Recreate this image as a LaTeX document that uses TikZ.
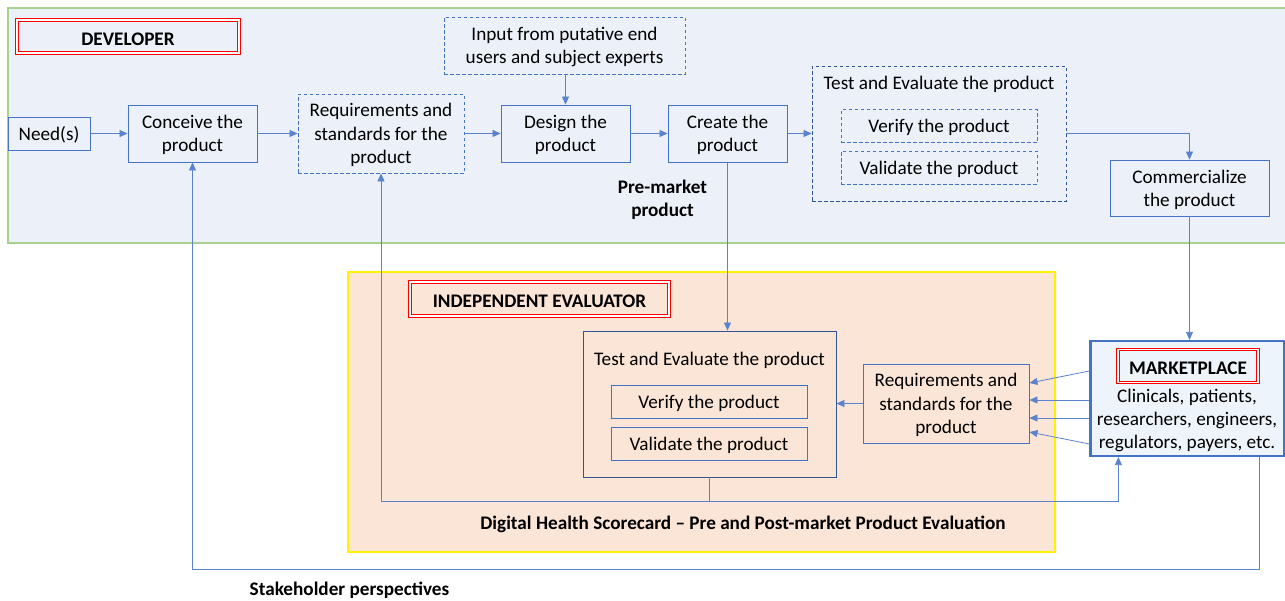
\documentclass[tikz,border=0pt]{standalone}
\usepackage{fontspec}
\setmainfont{Carlito}
\usetikzlibrary{arrows.meta,calc}
\definecolor{lblue}{HTML}{4472C4}
\definecolor{dblue}{HTML}{2F5597}
\definecolor{devfill}{HTML}{ECF0F9}
\definecolor{devgreen}{HTML}{A9D18E}
\definecolor{evfill}{HTML}{FBE5D6}
\definecolor{mktfill}{HTML}{EEF4FB}
\definecolor{conn}{HTML}{5B82CC}
\tikzset{
  txt/.style={font=\fontsize{19.2}{23.3}\selectfont, align=center, inner sep=0pt},
  box/.style={txt, draw=lblue, line width=0.9pt, rectangle, text depth=-0.6pt},
  dbox/.style={box, dashed, dash pattern=on 3.5pt off 2.5pt},
  lab/.style={txt, font=\fontsize{19.2}{23.3}\selectfont\bfseries, draw=red, double=white, double distance=1.4pt, line width=0.9pt, execute at begin node={\rule{0pt}{18pt}}},
  arr/.style={draw=conn, line width=0.8pt, -{Triangle[length=8pt,width=7pt]}},
  ln/.style={draw=conn, line width=0.8pt},
  bold/.style={txt, font=\fontsize{19.2}{23.3}\selectfont\bfseries},
}
\begin{document}
\begin{tikzpicture}[x=1pt,y=-1pt]
\useasboundingbox (0,0) rectangle (1285,600);
% containers
\node[draw=devgreen, line width=2.5pt, fill=devfill, minimum width=1290pt, minimum height=235pt, inner sep=0pt] (dev) at (653,125.5) {};
\node[draw=yellow, line width=2.5pt, fill=evfill, minimum width=707pt, minimum height=280pt, inner sep=0pt] (ev) at (701.5,412) {};
\node[draw=lblue, line width=2.2pt, fill=mktfill, minimum width=194pt, minimum height=115pt, inner sep=0pt] (mkt) at (1187.5,398.5) {};
% labels
\node[lab, fill=devfill, minimum width=222pt, minimum height=33pt] (devlab) at (128,36.5) {DEVELOPER};
\node[lab, fill=evfill, minimum width=259pt, minimum height=34pt] (evlab) at (539.5,299) {INDEPENDENT EVALUATOR};
\node[lab, fill=mktfill, minimum width=140pt, minimum height=33pt] (mktlab) at (1188,366) {MARKETPLACE};
\node[txt] (mkttxt) at (1187,420.5) {Clinicals, patients,\\researchers, engineers,\\regulators, payers, etc.};
% developer nodes
\node[box, minimum width=82pt, minimum height=33pt] (need) at (49,133.5) {Need(s)};
\node[box, minimum width=129pt, minimum height=57pt] (conceive) at (192.5,133.5) {Conceive the\\product};
\node[dbox, minimum width=166pt, minimum height=79pt] (req1) at (381,133.5) {Requirements and\\standards for the\\product};
\node[dbox, minimum width=241pt, minimum height=57pt] (input) at (564.5,45.5) {Input from putative end\\users and subject experts};
\node[box, minimum width=129pt, minimum height=57pt] (design) at (565.5,133.5) {Design the\\product};
\node[box, minimum width=119pt, minimum height=57pt] (create) at (727.5,133.5) {Create the\\product};
\node[dbox, draw=dblue, minimum width=254pt, minimum height=135pt] (test1) at (939,133.5) {};
\node[txt] (test1t) at (939,84) {Test and Evaluate the product};
\node[dbox, minimum width=196pt, minimum height=33pt] (ver1) at (939,126) {Verify the product};
\node[dbox, minimum width=196pt, minimum height=33pt] (val1) at (939,167.5) {Validate the product};
\node[box, minimum width=159pt, minimum height=56pt] (comm) at (1189.5,188) {Commercialize\\the product};
\node[bold] (pre) at (662.5,199.5) {Pre-market\\product};
% evaluator nodes
\node[box, draw=dblue, minimum width=253pt, minimum height=146pt] (test2) at (709.5,404) {};
\node[txt] (test2t) at (709.5,360) {Test and Evaluate the product};
\node[box, minimum width=196pt, minimum height=33pt] (ver2) at (709,401.5) {Verify the product};
\node[box, minimum width=196pt, minimum height=33pt] (val2) at (709,443.5) {Validate the product};
\node[box, minimum width=166pt, minimum height=79pt] (req2) at (946,403.5) {Requirements and\\standards for the\\product};
\node[bold] (dhs) at (743,524) {Digital Health Scorecard – Pre and Post-market Product Evaluation};
\node[bold] (sp) at (349.5,590) {Stakeholder perspectives};
% connectors
\draw[arr] (need) -- (conceive);
\draw[arr] (conceive) -- (req1);
\draw[arr] (req1) -- (design);
\draw[arr] (design) -- (create);
\draw[arr] (create.east) -- (test1.west |- create.east);
\draw[arr] (input.south -| design.north) -- (design.north);
\draw[arr] (test1.east) -| (comm.north);
\draw[arr] (comm.south) -- (comm.south |- mkt.north);
\draw[arr] (create.south) -- (create.south |- test2.north);
\draw[arr] (req2.west) -- (test2.east |- req2.west);
\draw[arr] (mkt.west |- 0,371) -- (req2.east |- 0,383);
\draw[arr] (mkt.west |- 0,400) -- (req2.east |- 0,400);
\draw[arr] (mkt.west |- 0,418) -- (req2.east |- 0,418);
\draw[arr] (mkt.west |- 0,444) -- (req2.east |- 0,432);
\coordinate (fb) at (test2.south |- 0,501);
\coordinate (mktin) at ([xshift=29pt]mkt.south west);
\draw[ln] (test2.south) -- (fb);
\draw[arr] (fb) -| (req1.south);
\draw[arr] (fb) -| (mktin);
\coordinate (mktout) at ([xshift=170pt]mkt.south west);
\coordinate (spc) at (mktout |- 0,569);
\draw[arr] (mktout) -- (spc) -| (conceive.south);
\end{tikzpicture}
\end{document}
